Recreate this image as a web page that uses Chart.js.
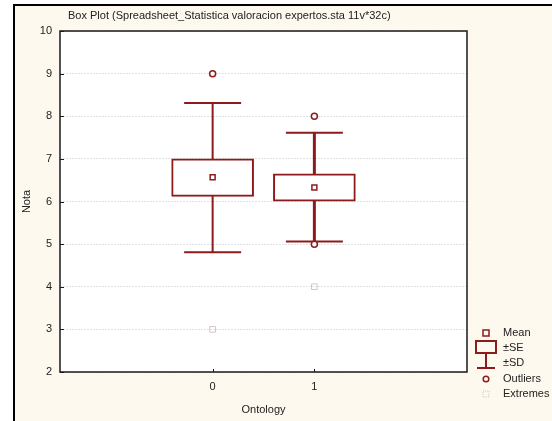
<!DOCTYPE html>
<html lang="en">
<head>
    <meta charset="UTF-8">
    <title>Box Plot</title>
    <script src="https://cdn.jsdelivr.net/npm/chart.js"></script>
    <style>
        body { margin: 0; background: #ffffff; }
    </style>
</head>
<body>
    <canvas id="myChart" width="552" height="421"></canvas>
    <script>
        // data
        const groups = ['0', '1'];
        const xPos = [0, 1];
        const means = [6.57, 6.33];
        const seLow = [6.12, 6.01];
        const seHigh = [7.00, 6.65];
        const sdLow = [4.81, 5.06];
        const sdHigh = [8.31, 7.61];
        const outliers = [[9], [8, 5]];
        const extremes = [[3], [4]];
        const yTicks = [2, 3, 4, 5, 6, 7, 8, 9, 10];

        const RED = '#8c1c1c';
        const FONT = '"Liberation Sans", Arial, sans-serif';
        const whiskerWidth = [2, 3];

        const boxData = xPos.map((x, i) => ({ x: x, y: [seLow[i], seHigh[i]] }));
        const meanData = xPos.map((x, i) => ({ x: x, y: means[i] }));
        const outData = [];
        outliers.forEach((arr, i) => arr.forEach(v => outData.push({ x: xPos[i], y: v })));
        const extData = [];
        extremes.forEach((arr, i) => arr.forEach(v => extData.push({ x: xPos[i], y: v })));

        const ctx = document.getElementById('myChart').getContext('2d');

        const boxPlugin = {
            id: 'statBox',
            beforeDraw: (chart) => {
                const { ctx, chartArea: a } = chart;
                ctx.save();
                ctx.fillStyle = '#ffffff';
                ctx.fillRect(0, 0, chart.width, chart.height);
                ctx.fillStyle = '#fdf9ee';
                ctx.fillRect(15, 6, chart.width - 15, chart.height - 6);
                ctx.fillStyle = '#000';
                ctx.fillRect(13, 4, chart.width - 13, 2);
                ctx.fillRect(13, 4, 2, chart.height - 4);
                ctx.fillStyle = '#ffffff';
                ctx.fillRect(a.left, a.top, a.right - a.left, a.bottom - a.top);
                ctx.restore();
            },
            beforeDatasetsDraw: (chart) => {
                const { ctx, scales: { x, y } } = chart;
                ctx.save();
                ctx.strokeStyle = RED;
                xPos.forEach((v, i) => {
                    const px = x.getPixelForValue(v);
                    const c0 = x.getPixelForValue(v - 0.28);
                    const c1 = x.getPixelForValue(v + 0.28);
                    const yl = y.getPixelForValue(sdLow[i]);
                    const yh = y.getPixelForValue(sdHigh[i]);
                    ctx.lineWidth = whiskerWidth[i];
                    ctx.beginPath();
                    ctx.moveTo(px, yl);
                    ctx.lineTo(px, yh);
                    ctx.stroke();
                    ctx.lineWidth = 2;
                    ctx.beginPath();
                    ctx.moveTo(c0, yl);
                    ctx.lineTo(c1, yl);
                    ctx.moveTo(c0, yh);
                    ctx.lineTo(c1, yh);
                    ctx.stroke();
                });
                ctx.restore();
            },
            afterDraw: (chart) => {
                const { ctx, chartArea: a, scales: { x, y } } = chart;
                ctx.save();
                // plot frame
                ctx.strokeStyle = '#1a1a1a';
                ctx.lineWidth = 1.5;
                ctx.strokeRect(a.left, a.top, a.right - a.left, a.bottom - a.top);
                // inward ticks
                ctx.lineWidth = 1;
                ctx.beginPath();
                yTicks.forEach(t => {
                    const py = Math.round(y.getPixelForValue(t)) + 0.5;
                    ctx.moveTo(a.left, py);
                    ctx.lineTo(a.left + 4, py);
                });
                xPos.forEach(v => {
                    const px = Math.round(x.getPixelForValue(v)) + 0.5;
                    ctx.moveTo(px, a.bottom);
                    ctx.lineTo(px, a.bottom - 3);
                });
                ctx.stroke();

                // texts
                ctx.fillStyle = '#222';
                ctx.font = '11px ' + FONT;
                ctx.textBaseline = 'middle';
                ctx.textAlign = 'left';
                ctx.fillText('Box Plot (Spreadsheet_Statistica valoracion expertos.sta 11v*32c)', 68, 16);
                ctx.textAlign = 'center';
                ctx.fillText('Ontology', (a.left + a.right) / 2, 410);
                ctx.save();
                ctx.translate(27, (a.top + a.bottom) / 2);
                ctx.rotate(-Math.PI / 2);
                ctx.fillText('Nota', 0, 0);
                ctx.restore();

                // legend
                const lx = 486;
                ctx.strokeStyle = RED;
                ctx.lineWidth = 1.5;
                ctx.strokeRect(lx - 3, 330, 6, 6);
                ctx.lineWidth = 2;
                ctx.strokeRect(476, 341, 20, 12);
                ctx.beginPath();
                ctx.moveTo(lx, 353);
                ctx.lineTo(lx, 368);
                ctx.moveTo(477, 368);
                ctx.lineTo(495, 368);
                ctx.stroke();
                ctx.lineWidth = 1.5;
                ctx.beginPath();
                ctx.arc(lx, 379, 2.8, 0, Math.PI * 2);
                ctx.stroke();
                ctx.strokeStyle = '#d9c4c4';
                ctx.lineWidth = 1;
                ctx.setLineDash([1, 1]);
                ctx.strokeRect(lx - 3, 391, 6, 6);
                ctx.setLineDash([]);
                ctx.fillStyle = '#222';
                ctx.textAlign = 'left';
                ctx.fillText('Mean', 503, 333);
                ctx.fillText('\u00b1SE', 503, 348);
                ctx.fillText('\u00b1SD', 503, 363);
                ctx.fillText('Outliers', 503, 379);
                ctx.fillText('Extremes', 503, 394);
                ctx.restore();
            }
        };

        const myChart = new Chart(ctx, {
            type: 'bar',
            data: {
                datasets: [
                    {
                        type: 'bar',
                        data: boxData,
                        backgroundColor: '#ffffff',
                        borderColor: RED,
                        borderWidth: 2,
                        borderSkipped: false,
                        barThickness: 82,
                        grouped: false,
                        order: 3
                    },
                    {
                        type: 'scatter',
                        data: meanData,
                        pointStyle: 'rect',
                        pointRadius: 3.5,
                        backgroundColor: '#ffffff',
                        borderColor: RED,
                        borderWidth: 1.5,
                        order: 1
                    },
                    {
                        type: 'scatter',
                        data: outData,
                        pointStyle: 'circle',
                        pointRadius: 3,
                        backgroundColor: '#ffffff',
                        borderColor: RED,
                        borderWidth: 1.5,
                        order: 1
                    },
                    {
                        type: 'scatter',
                        data: extData,
                        pointStyle: 'rect',
                        pointRadius: 4,
                        backgroundColor: 'rgba(0,0,0,0)',
                        borderColor: '#d9c4c4',
                        borderWidth: 1,
                        borderDash: [1, 1],
                        order: 1
                    }
                ]
            },
            options: {
                responsive: false,
                animation: false,
                layout: { padding: { top: 31, left: 0, right: 85, bottom: 0 } },
                plugins: {
                    legend: { display: false },
                    tooltip: { enabled: false },
                    title: { display: false }
                },
                scales: {
                    x: {
                        type: 'linear',
                        min: -1.5,
                        max: 2.5,
                        offset: false,
                        afterBuildTicks: (s) => { s.ticks = xPos.map(v => ({ value: v })); },
                        afterFit: (s) => { s.height = 49; },
                        grid: { display: false, drawTicks: false, offset: false },
                        border: { display: false },
                        ticks: {
                            padding: 8,
                            color: '#222',
                            font: { family: FONT, size: 11 },
                            callback: (v) => groups[xPos.indexOf(v)]
                        }
                    },
                    y: {
                        min: 2,
                        max: 10,
                        afterBuildTicks: (s) => { s.ticks = yTicks.map(v => ({ value: v })); },
                        afterFit: (s) => { s.width = 60; },
                        grid: { color: '#e2e2e2', lineWidth: 1, drawTicks: false },
                        border: { display: false, dash: [2, 1] },
                        ticks: {
                            padding: 8,
                            color: '#222',
                            font: { family: FONT, size: 11 }
                        }
                    }
                }
            },
            plugins: [boxPlugin]
        });
    </script>
</body>
</html>
